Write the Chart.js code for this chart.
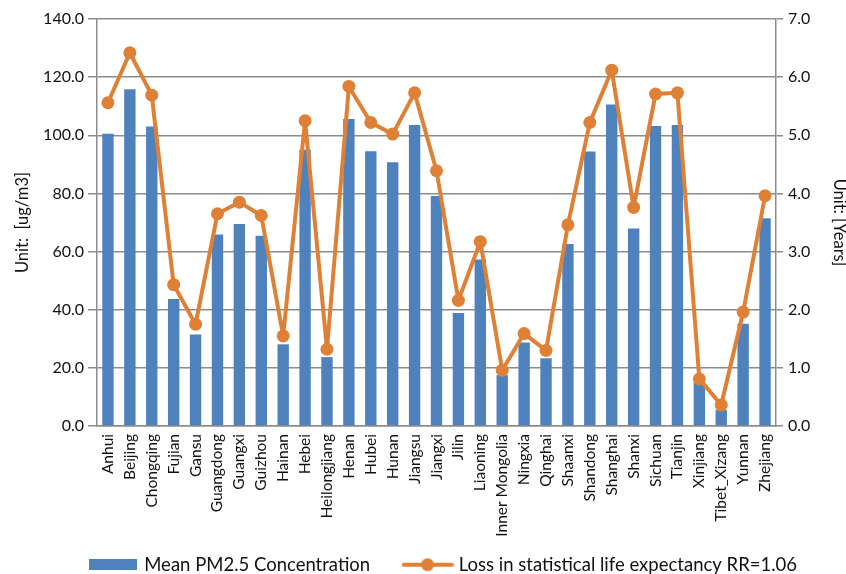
<!DOCTYPE html>
<html>
<head>
<meta charset="utf-8">
<script src="https://cdn.jsdelivr.net/npm/chart.js@4/dist/chart.umd.min.js"></script>
<style>
  html, body { margin: 0; padding: 0; background: #fff; }
  #wrap { width: 846px; height: 574px; }
</style>
</head>
<body>
<div id="wrap"><canvas id="c" width="846" height="574"></canvas></div>
<script>
// Provinces
const provinces = ['Anhui','Beijing','Chongqing','Fujian','Gansu','Guangdong','Guangxi','Guizhou','Hainan','Hebei','Heilongjiang','Henan','Hubei','Hunan','Jiangsu','Jiangxi','Jilin','Liaoning','Inner Mongolia','Ningxia','Qinghai','Shaanxi','Shandong','Shanghai','Shanxi','Sichuan','Tianjin','Xinjiang','Tibet_Xizang','Yunnan','Zhejiang'];

// Mean PM2.5 concentration, ug/m3
const pm25 = [100.5, 115.8, 103.0, 43.7, 31.5, 65.9, 69.5, 65.4, 28.1, 95.0, 23.7, 105.6, 94.5, 90.7, 103.5, 79.1, 38.9, 57.3, 17.5, 28.7, 23.3, 62.6, 94.4, 110.6, 67.9, 103.2, 103.5, 15.0, 5.5, 35.2, 71.5];

// Loss in statistical life expectancy (years), RR = 1.06
const lifeLoss = [5.56, 6.42, 5.69, 2.43, 1.75, 3.65, 3.85, 3.62, 1.55, 5.25, 1.32, 5.84, 5.22, 5.02, 5.73, 4.39, 2.16, 3.17, 0.96, 1.59, 1.30, 3.46, 5.22, 6.12, 3.76, 5.71, 5.73, 0.81, 0.36, 1.96, 3.96];

const leftTicks = { min: 0, max: 140, step: 20 };
const rightTicks = { min: 0, max: 7, step: 1 };

const BLUE = '#4F81BD';
const ORANGE = '#DE8136';
const GRID = '#8c8c8c';
const FONT = 'Lato, "Liberation Sans", sans-serif';

// Legend symbols
function barSymbol() {
  const c = document.createElement('canvas');
  c.width = 48; c.height = 11;
  const g = c.getContext('2d');
  g.fillStyle = BLUE;
  g.fillRect(0, 0, 48, 11);
  return c;
}
function lineSymbol() {
  const c = document.createElement('canvas');
  c.width = 52; c.height = 16;
  const g = c.getContext('2d');
  g.strokeStyle = ORANGE;
  g.lineWidth = 4;
  g.lineCap = 'round';
  g.beginPath(); g.moveTo(2, 8); g.lineTo(50, 8); g.stroke();
  g.fillStyle = ORANGE;
  g.beginPath(); g.arc(26, 8, 6.5, 0, Math.PI * 2); g.fill();
  return c;
}
const symbols = [barSymbol(), lineSymbol()];
// extra horizontal room after the first legend entry
const legendGap = '      ';

// Nudge the bottom legend a little to the right of centre
const legendShift = {
  id: 'legendShift',
  afterLayout(chart) {
    const lg = chart.legend;
    if (lg) { lg.left += 21; lg.right += 21; }
  }
};

new Chart(document.getElementById('c'), {
  data: {
    labels: provinces,
    datasets: [
      {
        type: 'bar',
        label: 'Mean PM2.5 Concentration',
        data: pm25,
        backgroundColor: BLUE,
        borderWidth: 0,
        barPercentage: 0.52,
        categoryPercentage: 1.0,
        yAxisID: 'y',
        order: 2
      },
      {
        type: 'line',
        label: 'Loss in statistical life expectancy RR=1.06',
        data: lifeLoss,
        borderColor: ORANGE,
        backgroundColor: ORANGE,
        borderWidth: 4,
        borderJoinStyle: 'round',
        borderCapStyle: 'round',
        pointRadius: 6.5,
        pointBorderWidth: 0,
        pointBackgroundColor: ORANGE,
        tension: 0,
        yAxisID: 'y1',
        order: 1
      }
    ]
  },
  plugins: [legendShift],
  options: {
    responsive: false,
    animation: false,
    layout: { padding: { top: 19, left: 0, right: 0, bottom: -10 } },
    plugins: {
      tooltip: { enabled: false },
      legend: {
        position: 'bottom',
        labels: {
          usePointStyle: true,
          pointStyleWidth: 44,
          padding: 7,
          color: '#111',
          font: { family: FONT, size: 18.5 },
          generateLabels: (chart) => chart.data.datasets.map((ds, i) => ({
            text: ds.label + (i === 0 ? legendGap : ''),
            pointStyle: symbols[i],
            fillStyle: 'transparent',
            strokeStyle: 'transparent',
            lineWidth: 0,
            fontColor: '#111',
            datasetIndex: i,
            hidden: false
          }))
        }
      }
    },
    scales: {
      x: {
        afterFit: (s) => { s.height = 122.5; },
        grid: { display: false, drawTicks: false },
        border: { display: true, color: GRID, width: 1.5 },
        ticks: {
          autoSkip: false,
          maxRotation: 90,
          minRotation: 90,
          padding: 8,
          color: '#111',
          font: { family: FONT, size: 15.5 }
        }
      },
      y: {
        position: 'left',
        min: leftTicks.min,
        max: leftTicks.max,
        afterFit: (s) => { s.width = 97; },
        grid: { color: GRID, lineWidth: 1.5, tickLength: 9 },
        border: { display: true, color: GRID, width: 1.5 },
        ticks: {
          stepSize: leftTicks.step,
          padding: 4,
          color: '#111',
          font: { family: FONT, size: 16 },
          callback: (v) => Number(v).toFixed(1)
        },
        title: {
          display: true,
          text: 'Unit:  [ug/m3]',
          color: '#111',
          font: { family: FONT, size: 16.5 },
          padding: { top: 13, bottom: 0 }
        }
      },
      y1: {
        position: 'right',
        min: rightTicks.min,
        max: rightTicks.max,
        afterFit: (s) => { s.width = 70; },
        grid: { drawOnChartArea: false, color: GRID, lineWidth: 1.5, tickLength: 7 },
        border: { display: true, color: GRID, width: 1.5 },
        ticks: {
          stepSize: rightTicks.step,
          padding: 5,
          color: '#111',
          font: { family: FONT, size: 16 },
          callback: (v) => Number(v).toFixed(1)
        },
        title: {
          display: true,
          text: 'Unit: [Years]',
          color: '#111',
          font: { family: FONT, size: 16.5 },
          padding: { top: -3, bottom: 0 }
        }
      }
    }
  }
});
</script>
</body>
</html>
